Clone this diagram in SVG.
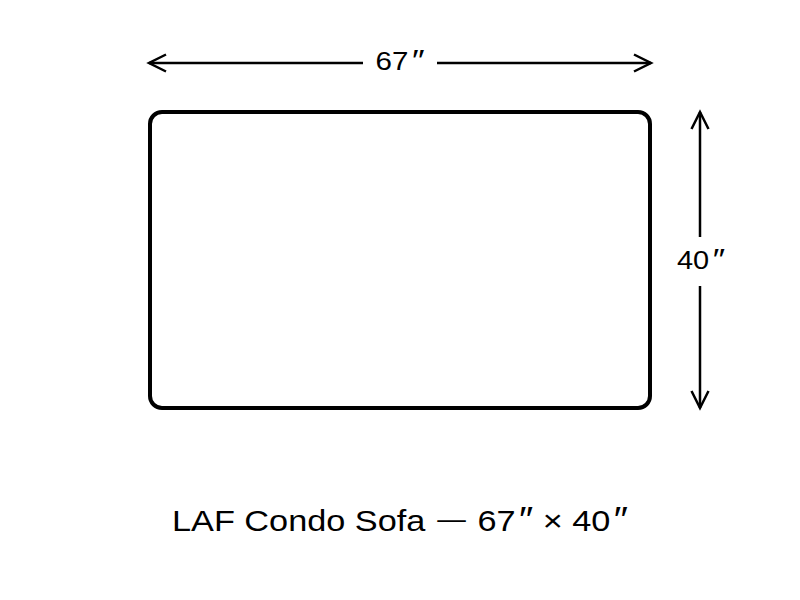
<svg xmlns="http://www.w3.org/2000/svg" width="800" height="600" viewBox="0 0 800 600">
<style>
.dim{stroke:#000;stroke-width:2.5;fill:none}
.head{stroke:#000;stroke-width:2.5;fill:none;stroke-linecap:butt}
text{font-family:"Liberation Sans",Arial,sans-serif;fill:#000}
</style>
<rect width="800" height="600" fill="#fff"/>
<g id="sofa">
<rect x="150" y="112" width="500" height="296" rx="12" ry="12" fill="#fff" stroke="#000" stroke-width="4"/>
</g>
<g id="connectors">
<line class="dim" x1="149" y1="63" x2="363" y2="63"/>
<line class="dim" x1="437" y1="63" x2="651" y2="63"/>
<polyline class="head" points="166,54.5 149,63 166,71.5"/>
<polyline class="head" points="634,54.5 651,63 634,71.5"/>
<line class="dim" x1="700" y1="112" x2="700" y2="237"/>
<line class="dim" x1="700" y1="286" x2="700" y2="408"/>
<polyline class="head" points="691.5,129 700,112 708.5,129"/>
<polyline class="head" points="691.5,391 700,408 708.5,391"/>
</g>
<g id="labels">
<text x="400" y="70" font-size="25" text-anchor="middle" textLength="49" lengthAdjust="spacingAndGlyphs">67<tspan font-size="30" dx="3">″</tspan></text>
<text x="701" y="269" font-size="25" text-anchor="middle" textLength="48" lengthAdjust="spacingAndGlyphs">40<tspan font-size="30" dx="3">″</tspan></text>
<text x="172" y="531" font-size="30" textLength="456" lengthAdjust="spacingAndGlyphs">LAF Condo Sofa <tspan font-size="25" dx="2" dy="-3">—</tspan><tspan dx="2" dy="3"> 67</tspan><tspan font-size="35" dx="3">″</tspan> × 40<tspan font-size="35" dx="3">″</tspan></text>
</g>
</svg>
